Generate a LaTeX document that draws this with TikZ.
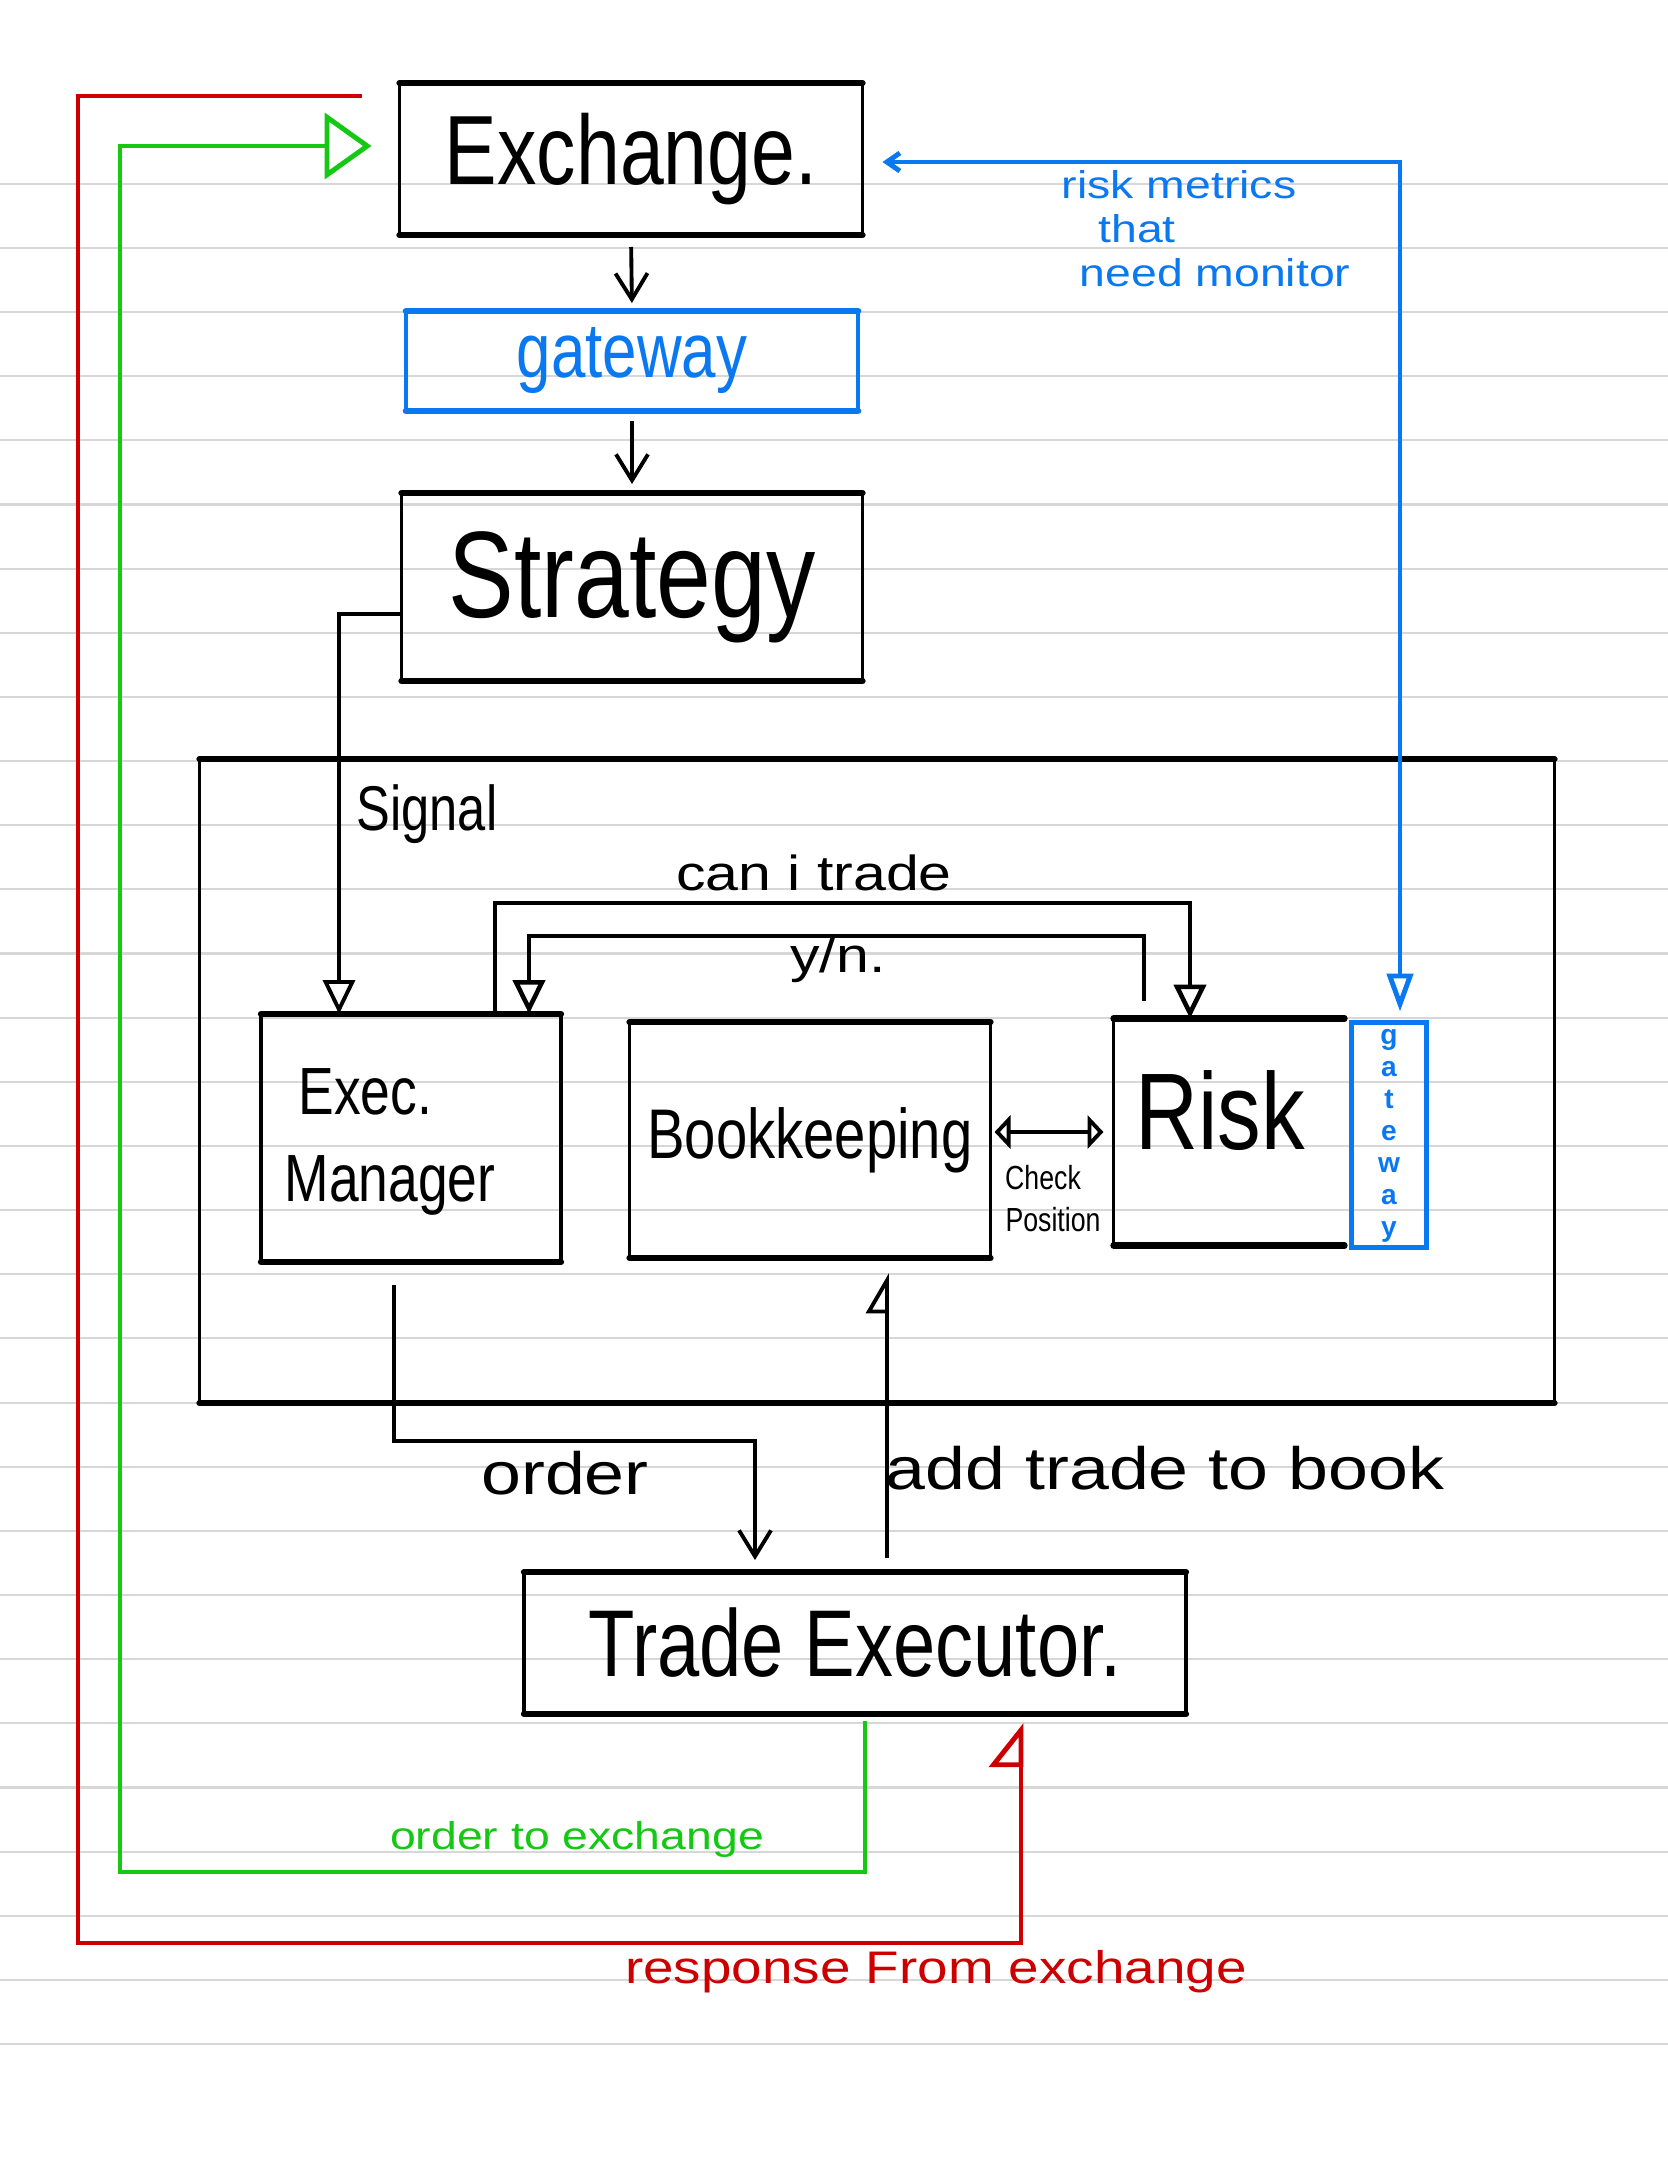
\documentclass[tikz,border=0pt]{standalone}
\usepackage{fontspec}
\setmainfont{Liberation Sans}[FakeStretch=0.8]
\newfontfamily\handwide{Liberation Sans}
\newfontfamily\handbroad{Liberation Sans}[FakeStretch=1.2]
\usepackage{xcolor}
\usetikzlibrary{calc,arrows.meta}

\definecolor{penred}{RGB}{204,0,0}
\definecolor{pengreen}{RGB}{20,200,20}
\definecolor{penblue}{RGB}{10,120,240}
\definecolor{ruled}{RGB}{215,215,215}

\begin{document}
\begin{tikzpicture}[x=0.1mm,y=-0.1mm,
    box/.style={inner sep=0pt,outer sep=0pt},
    side/.style={line width=1.8pt,line cap=round},
    wall/.style={line width=1.1pt,line cap=round},
    wire/.style={line width=1.1pt},
    ruling/.style={draw=ruled,line width=0.6pt},
    tri/.style={-{Triangle[open,length=3.4mm,width=3.2mm]}},
    barb/.style={-{Straight Barb[length=2.6mm,width=3.2mm]}},
    dbl/.style={{Triangle[open,length=1.6mm,width=3.3mm]}-{Triangle[open,length=1.6mm,width=3.3mm]}},
    half/.style={-{Triangle[open,left,length=3.7mm,width=4.2mm]}},
    greenwire/.style={draw=pengreen,line width=1.4pt,-{Triangle[open,length=4.7mm,width=6.6mm]}},
    redwire/.style={draw=penred,line width=1.4pt,-{Triangle[open,left,length=4.1mm,width=6.4mm]}},
    bluewire/.style={draw=penblue,line width=1.4pt,{Straight Barb[length=1.3mm,width=1.8mm]}-{Triangle[open,length=3.8mm,width=2.6mm]}}
  ]
					\fill[white] (0,0) rectangle (1668,2157);
					\useasboundingbox (0,0) rectangle (1668,2157);
					\foreach \k in {0,...,29}
						\draw[ruling] (0,{183.7+64.15*\k}) -- (1668,{183.7+64.15*\k});
					
					\node (exch) at (631,159) [box, minimum width=46.3mm, minimum height=15.2mm, font=\fontsize{28pt}{34pt}\selectfont] {Exchange.};
					\node (gate) at (632,361) [box, minimum width=45.2mm, minimum height=10mm, text=penblue, font=\fontsize{22pt}{26pt}\selectfont] {gateway};
					\node (strat) at (632,587) [box, minimum width=46.1mm, minimum height=18.8mm, font=\fontsize{35pt}{42pt}\selectfont] {Strategy};
					\node (frame) at (877,1081) [box, minimum width=135.5mm, minimum height=64.4mm] {};
					\node (exec) at (411,1138) [box, minimum width=30mm, minimum height=24.8mm] {};
					\node (book) at (810,1140) [box, minimum width=36.1mm, minimum height=23.6mm, font=\fontsize{20pt}{24pt}\selectfont] {Bookkeeping};
					\node (risk) at (1229,1132) [box, minimum width=23.1mm, minimum height=22.7mm] {};
					\node (rgate) at (1389,1135) [box, minimum width=7.5mm, minimum height=22.5mm] {};
					\node (trade) at (855,1643) [box, minimum width=66.2mm, minimum height=14.2mm, font=\fontsize{27pt}{32pt}\selectfont] {Trade Executor.};
					
					\node (execlbl) at (390,1142) [align=left, font=\fontsize{19pt}{25pt}\selectfont] {\hspace*{1.4mm}Exec.\\Manager};
					\node (risklbl) at (1220,1111) [font=\fontsize{31pt}{37pt}\selectfont] {Risk};
					\foreach \l [count=\i] in {g,a,t,e,w,a,y}
						\node (gw\i) at (1389,{1012+32*\i}) [box, anchor=base, text=penblue, font=\handwide\bfseries\fontsize{8pt}{9pt}\selectfont] {\l};
					
					\draw[wall] (exch.north west) -- (exch.south west) (exch.north east) -- (exch.south east);
					\draw[side] (exch.north west) -- (exch.north east) (exch.south west) -- (exch.south east);
					\draw[wall, draw=penblue, line width=0.9pt] (gate.north west) -- (gate.south west) (gate.north east) -- (gate.south east);
					\draw[side, draw=penblue, line width=1.9pt] (gate.north west) -- (gate.north east) (gate.south west) -- (gate.south east);
					\draw[wall] (strat.north west) -- (strat.south west) (strat.north east) -- (strat.south east);
					\draw[side] (strat.north west) -- (strat.north east) (strat.south west) -- (strat.south east);
					\draw[wall] (frame.north west) -- (frame.south west) (frame.north east) -- (frame.south east);
					\draw[side] (frame.north west) -- (frame.north east) (frame.south west) -- (frame.south east);
					\draw[wall] (exec.north west) -- (exec.south west) (exec.north east) -- (exec.south east);
					\draw[side] (exec.north west) -- (exec.north east) (exec.south west) -- (exec.south east);
					\draw[wall] (book.north west) -- (book.south west) (book.north east) -- (book.south east);
					\draw[side] (book.north west) -- (book.north east) (book.south west) -- (book.south east);
					\draw[wall] (risk.north west) -- (risk.south west);
					\draw[side] (risk.north west) -- (risk.north east) (risk.south west) -- (risk.south east);
					\draw[draw=penblue, line width=1.2pt] (rgate.north west) rectangle (rgate.south east);
					\draw[wall] (trade.north west) -- (trade.south west) (trade.north east) -- (trade.south east);
					\draw[side] (trade.north west) -- (trade.north east) (trade.south west) -- (trade.south east);
					
					\coordinate (sigbend) at (339,614);
					\coordinate (askL) at (495,903);
					\coordinate (askR) at (1190,903);
					\coordinate (ansR) at (1144,936);
					\coordinate (ansL) at (529,936);
					\coordinate (ordL) at (394,1441);
					\coordinate (ordR) at (755,1441);
					\coordinate (addx) at (887,1500);
					\coordinate (g1) at (865,1872);
					\coordinate (g2) at (120,1872);
					\coordinate (g3) at (120,146);
					\coordinate (r1) at (78,96);
					\coordinate (r2) at (78,1943);
					\coordinate (r3) at (1021,1943);
					\coordinate (b1) at (1400,162);
					
					\draw[wire, barb, shorten <=1.2mm, shorten >=0.8mm] (exch.south) -- (gate.north);
					\draw[wire, barb, shorten <=1mm, shorten >=0.9mm] (gate.south) -- (strat.north);
					\draw[wire, tri] (strat.west |- sigbend) -- (sigbend) -- (sigbend |- exec.north);
					\draw[wire, line width=1.3pt, tri] (askL |- exec.north) -- (askL) -- (askR) -- (askR |- risk.north);
					\draw[wire, line width=1.3pt, tri, shorten <=1.8mm] (ansR |- risk.north) -- (ansR) -- (ansL) -- (ansL |- exec.north);
					\draw[wire, dbl, shorten >=1mm, shorten <=0.4mm] (book.east |- risk.west) -- (risk.west);
					\draw[wire, barb, shorten <=2.3mm, shorten >=1.2mm] (ordL |- exec.south) -- (ordL) -- (ordR) -- (ordR |- trade.north);
					\draw[wire, half, shorten <=1.4mm, shorten >=1.5mm] (addx |- trade.north) -- (addx |- book.south);
					\draw[greenwire, shorten <=0.7mm, shorten >=2.8mm] (g1 |- trade.south) -- (g1) -- (g2) -- (g3) -- (g3 -| exch.west);
					\draw[redwire, shorten <=3.8mm, shorten >=0.9mm] (r1 -| exch.west) -- (r1) -- (r2) -- (r3) -- (r3 |- trade.south);
					\draw[bluewire, shorten <=2mm, shorten >=1.1mm] (b1 -| exch.east) -- (b1) -- (b1 |- rgate.north);
					
					\node (signal) at (427,814) [font=\fontsize{18pt}{22pt}\selectfont] {Signal};
					\node (ask) at (814,873) [font=\handbroad\fontsize{14pt}{17pt}\selectfont] {can i trade};
					\node (answer) at (838,960) [font=\handbroad\fontsize{14pt}{17pt}\selectfont] {y/n.};
					\node (check) at (1043,1178) [font=\fontsize{9.5pt}{11pt}\selectfont] {Check};
					\node (position) at (1053,1220) [font=\fontsize{9.5pt}{11pt}\selectfont] {Position};
					\node (order) at (565,1473) [font=\handbroad\fontsize{17pt}{20pt}\selectfont] {order};
					\node (addbook) at (1165,1468) [font=\handbroad\fontsize{17pt}{20pt}\selectfont] {add trade to book};
					\node (toexch) at (577,1839) [text=pengreen, font=\handbroad\fontsize{11pt}{13pt}\selectfont] {order to exchange};
					\node (fromexch) at (936,1972) [text=penred, font=\handbroad\fontsize{13pt}{16pt}\selectfont] {response From exchange};
					\node (metric1) at (1179,198) [anchor=base, text=penblue, font=\handbroad\fontsize{11pt}{13pt}\selectfont] {risk metrics};
					\node (metric2) at (1137,242) [anchor=base, text=penblue, font=\handbroad\fontsize{11pt}{13pt}\selectfont] {that};
					\node (metric3) at (1215,286) [anchor=base, text=penblue, font=\handbroad\fontsize{11pt}{13pt}\selectfont] {need monitor};
				\end{tikzpicture}
\end{document}
